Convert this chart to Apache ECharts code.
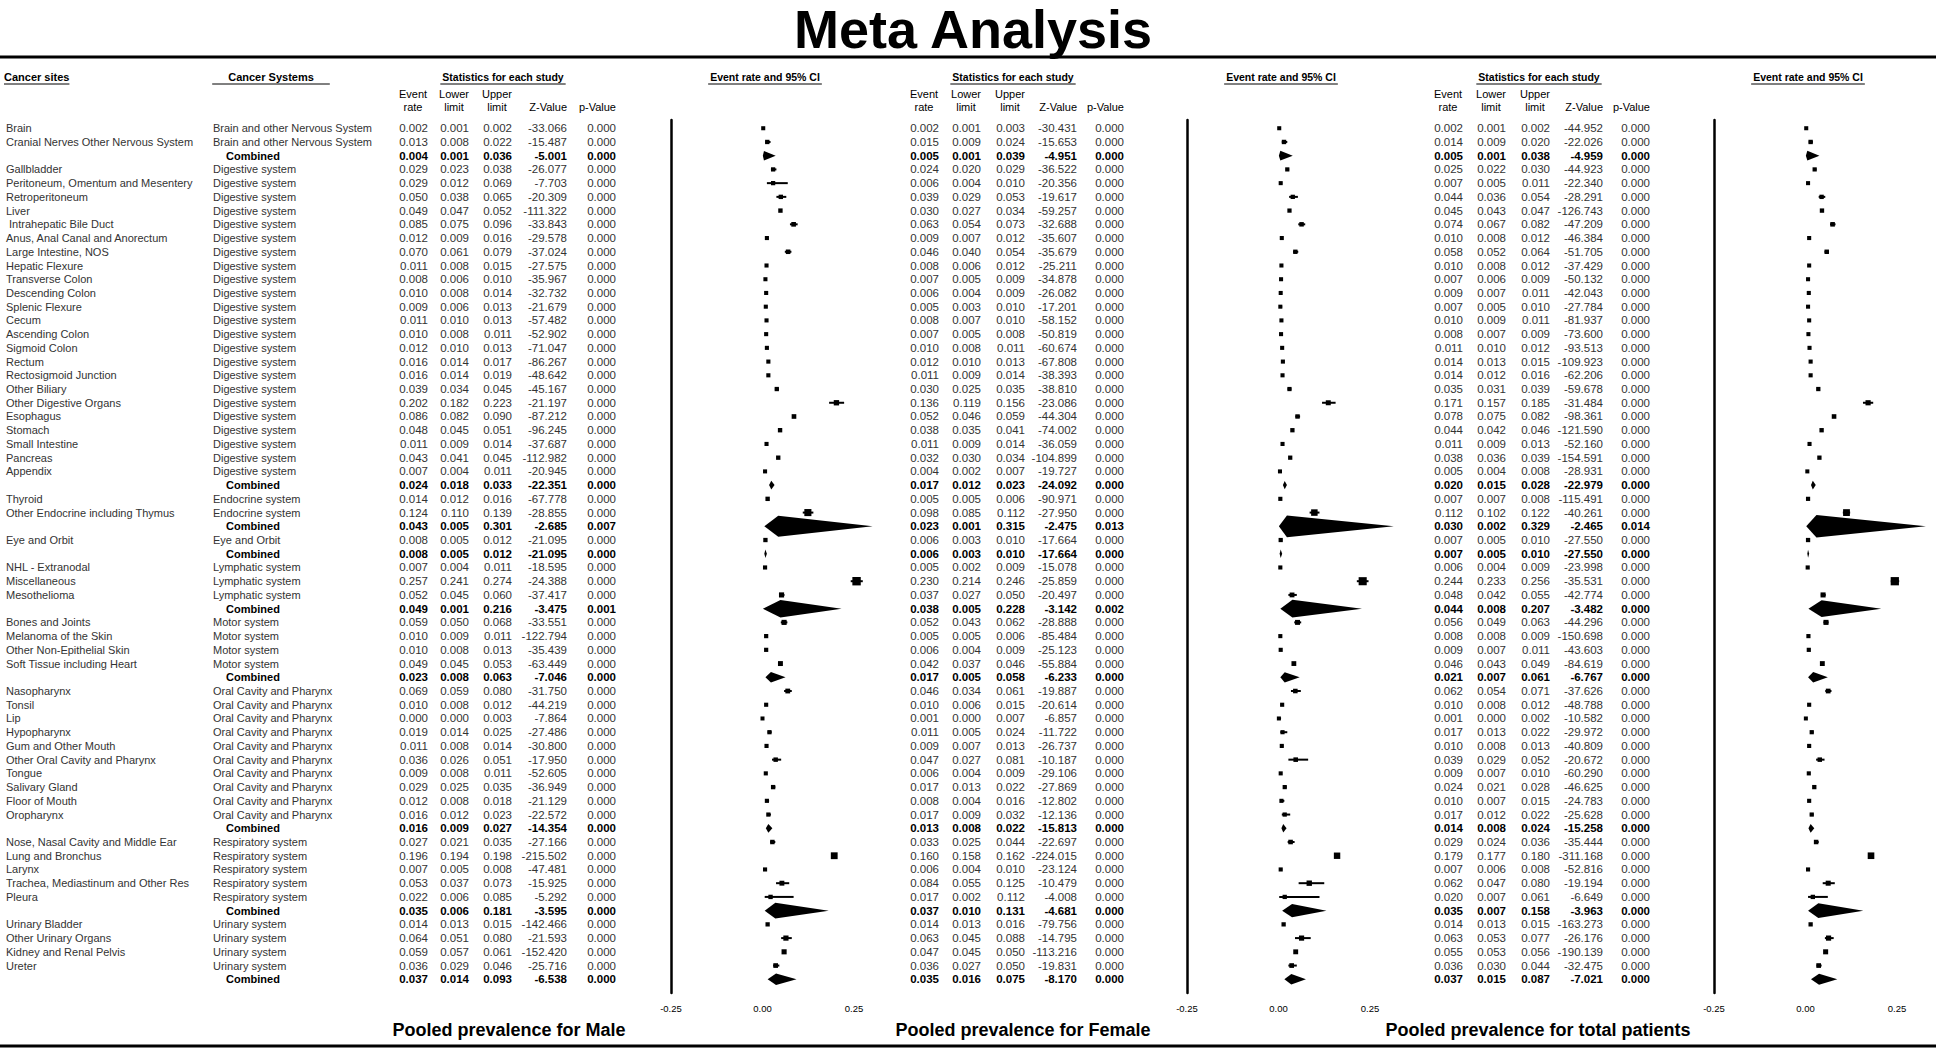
<!DOCTYPE html>
<html><head><meta charset="utf-8">
<script src="https://cdn.jsdelivr.net/npm/echarts@6/dist/echarts.min.js"></script>
<style>html,body{margin:0;padding:0;background:#fff}#c{width:1946px;height:1054px}</style>
</head><body><div id="c"></div>
<script>
// ---------------- DATA ----------------
const sites = ['Brain','Cranial Nerves Other Nervous System','',
 'Gallbladder','Peritoneum, Omentum and Mesentery','Retroperitoneum','Liver',' Intrahepatic Bile Duct','Anus, Anal Canal and Anorectum','Large Intestine, NOS','Hepatic Flexure','Transverse Colon','Descending Colon','Splenic Flexure','Cecum','Ascending Colon','Sigmoid Colon','Rectum','Rectosigmoid Junction','Other Biliary','Other Digestive Organs','Esophagus','Stomach','Small Intestine','Pancreas','Appendix','',
 'Thyroid','Other Endocrine including Thymus','',
 'Eye and Orbit','',
 'NHL - Extranodal','Miscellaneous','Mesothelioma','',
 'Bones and Joints','Melanoma of the Skin','Other Non-Epithelial Skin','Soft Tissue including Heart','',
 'Nasopharynx','Tonsil','Lip','Hypopharynx','Gum and Other Mouth','Other Oral Cavity and Pharynx','Tongue','Salivary Gland','Floor of Mouth','Oropharynx','',
 'Nose, Nasal Cavity and Middle Ear','Lung and Bronchus','Larynx','Trachea, Mediastinum and Other Res','Pleura','',
 'Urinary Bladder','Other Urinary Organs','Kidney and Renal Pelvis','Ureter',''];
const BN='Brain and other Nervous System', DG='Digestive system', EN='Endocrine system', EO='Eye and Orbit', LY='Lymphatic system', MO='Motor system', OC='Oral Cavity and Pharynx', RE='Respiratory system', UR='Urinary system', CB='Combined';
const systems = [BN,BN,CB,
 DG,DG,DG,DG,DG,DG,DG,DG,DG,DG,DG,DG,DG,DG,DG,DG,DG,DG,DG,DG,DG,DG,DG,CB,
 EN,EN,CB, EO,CB, LY,LY,LY,CB, MO,MO,MO,MO,CB,
 OC,OC,OC,OC,OC,OC,OC,OC,OC,OC,CB, RE,RE,RE,RE,RE,CB, UR,UR,UR,UR,CB];

const maleRate  = [0.002,0.013,0.004,0.029,0.029,0.050,0.049,0.085,0.012,0.070,0.011,0.008,0.010,0.009,0.011,0.010,0.012,0.016,0.016,0.039,0.202,0.086,0.048,0.011,0.043,0.007,0.024,0.014,0.124,0.043,0.008,0.008,0.007,0.257,0.052,0.049,0.059,0.010,0.010,0.049,0.023,0.069,0.010,0.000,0.019,0.011,0.036,0.009,0.029,0.012,0.016,0.016,0.027,0.196,0.007,0.053,0.022,0.035,0.014,0.064,0.059,0.036,0.037];
const maleLower = [0.001,0.008,0.001,0.023,0.012,0.038,0.047,0.075,0.009,0.061,0.008,0.006,0.008,0.006,0.010,0.008,0.010,0.014,0.014,0.034,0.182,0.082,0.045,0.009,0.041,0.004,0.018,0.012,0.110,0.005,0.005,0.005,0.004,0.241,0.045,0.001,0.050,0.009,0.008,0.045,0.008,0.059,0.008,0.000,0.014,0.008,0.026,0.008,0.025,0.008,0.012,0.009,0.021,0.194,0.005,0.037,0.006,0.006,0.013,0.051,0.057,0.029,0.014];
const maleUpper = [0.002,0.022,0.036,0.038,0.069,0.065,0.052,0.096,0.016,0.079,0.015,0.010,0.014,0.013,0.013,0.011,0.013,0.017,0.019,0.045,0.223,0.090,0.051,0.014,0.045,0.011,0.033,0.016,0.139,0.301,0.012,0.012,0.011,0.274,0.060,0.216,0.068,0.011,0.013,0.053,0.063,0.080,0.012,0.003,0.025,0.014,0.051,0.011,0.035,0.018,0.023,0.027,0.035,0.198,0.008,0.073,0.085,0.181,0.015,0.080,0.061,0.046,0.093];
const maleZ     = [-33.066,-15.487,-5.001,-26.077,-7.703,-20.309,-111.322,-33.843,-29.578,-37.024,-27.575,-35.967,-32.732,-21.679,-57.482,-52.902,-71.047,-86.267,-48.642,-45.167,-21.197,-87.212,-96.245,-37.687,-112.982,-20.945,-22.351,-67.778,-28.855,-2.685,-21.095,-21.095,-18.595,-24.388,-37.417,-3.475,-33.551,-122.794,-35.439,-63.449,-7.046,-31.750,-44.219,-7.864,-27.486,-30.800,-17.950,-52.605,-36.949,-21.129,-22.572,-14.354,-27.166,-215.502,-47.481,-15.925,-5.292,-3.595,-142.466,-21.593,-152.420,-25.716,-6.538];
const maleP     = [0,0,0,0,0,0,0,0,0,0,0,0,0,0,0,0,0,0,0,0,0,0,0,0,0,0,0,0,0,0.007,0,0,0,0,0,0.001,0,0,0,0,0,0,0,0,0,0,0,0,0,0,0,0,0,0,0,0,0,0,0,0,0,0,0];

const femaleRate  = [0.002,0.015,0.005,0.024,0.006,0.039,0.030,0.063,0.009,0.046,0.008,0.007,0.006,0.005,0.008,0.007,0.010,0.012,0.011,0.030,0.136,0.052,0.038,0.011,0.032,0.004,0.017,0.005,0.098,0.023,0.006,0.006,0.005,0.230,0.037,0.038,0.052,0.005,0.006,0.042,0.017,0.046,0.010,0.001,0.011,0.009,0.047,0.006,0.017,0.008,0.017,0.013,0.033,0.160,0.006,0.084,0.017,0.037,0.014,0.063,0.047,0.036,0.035];
const femaleLower = [0.001,0.009,0.001,0.020,0.004,0.029,0.027,0.054,0.007,0.040,0.006,0.005,0.004,0.003,0.007,0.005,0.008,0.010,0.009,0.025,0.119,0.046,0.035,0.009,0.030,0.002,0.012,0.005,0.085,0.001,0.003,0.003,0.002,0.214,0.027,0.005,0.043,0.005,0.004,0.037,0.005,0.034,0.006,0.000,0.005,0.007,0.027,0.004,0.013,0.004,0.009,0.008,0.025,0.158,0.004,0.055,0.002,0.010,0.013,0.045,0.045,0.027,0.016];
const femaleUpper = [0.003,0.024,0.039,0.029,0.010,0.053,0.034,0.073,0.012,0.054,0.012,0.009,0.009,0.010,0.010,0.008,0.011,0.013,0.014,0.035,0.156,0.059,0.041,0.014,0.034,0.007,0.023,0.006,0.112,0.315,0.010,0.010,0.009,0.246,0.050,0.228,0.062,0.006,0.009,0.046,0.058,0.061,0.015,0.007,0.024,0.013,0.081,0.009,0.022,0.016,0.032,0.022,0.044,0.162,0.010,0.125,0.112,0.131,0.016,0.088,0.050,0.050,0.075];
const femaleZ     = [-30.431,-15.653,-4.951,-36.522,-20.356,-19.617,-59.257,-32.688,-35.607,-35.679,-25.211,-34.878,-26.082,-17.201,-58.152,-50.819,-60.674,-67.808,-38.393,-38.810,-23.086,-44.304,-74.002,-36.059,-104.899,-19.727,-24.092,-90.971,-27.950,-2.475,-17.664,-17.664,-15.078,-25.859,-20.497,-3.142,-28.888,-85.484,-25.123,-55.884,-6.233,-19.887,-20.614,-6.857,-11.722,-26.737,-10.187,-29.106,-27.869,-12.802,-12.136,-15.813,-22.697,-224.015,-23.124,-10.479,-4.008,-4.681,-79.756,-14.795,-113.216,-19.831,-8.170];
const femaleP     = [0,0,0,0,0,0,0,0,0,0,0,0,0,0,0,0,0,0,0,0,0,0,0,0,0,0,0,0,0,0.013,0,0,0,0,0,0.002,0,0,0,0,0,0,0,0,0,0,0,0,0,0,0,0,0,0,0,0,0,0,0,0,0,0,0];

const totalRate  = [0.002,0.014,0.005,0.025,0.007,0.044,0.045,0.074,0.010,0.058,0.010,0.007,0.009,0.007,0.010,0.008,0.011,0.014,0.014,0.035,0.171,0.078,0.044,0.011,0.038,0.005,0.020,0.007,0.112,0.030,0.007,0.007,0.006,0.244,0.048,0.044,0.056,0.008,0.009,0.046,0.021,0.062,0.010,0.001,0.017,0.010,0.039,0.009,0.024,0.010,0.017,0.014,0.029,0.179,0.007,0.062,0.020,0.035,0.014,0.063,0.055,0.036,0.037];
const totalLower = [0.001,0.009,0.001,0.022,0.005,0.036,0.043,0.067,0.008,0.052,0.008,0.006,0.007,0.005,0.009,0.007,0.010,0.013,0.012,0.031,0.157,0.075,0.042,0.009,0.036,0.004,0.015,0.007,0.102,0.002,0.005,0.005,0.004,0.233,0.042,0.008,0.049,0.008,0.007,0.043,0.007,0.054,0.008,0.000,0.013,0.008,0.029,0.007,0.021,0.007,0.012,0.008,0.024,0.177,0.006,0.047,0.007,0.007,0.013,0.053,0.053,0.030,0.015];
const totalUpper = [0.002,0.020,0.038,0.030,0.011,0.054,0.047,0.082,0.012,0.064,0.012,0.009,0.011,0.010,0.011,0.009,0.012,0.015,0.016,0.039,0.185,0.082,0.046,0.013,0.039,0.008,0.028,0.008,0.122,0.329,0.010,0.010,0.009,0.256,0.055,0.207,0.063,0.009,0.011,0.049,0.061,0.071,0.012,0.002,0.022,0.013,0.052,0.010,0.028,0.015,0.022,0.024,0.036,0.180,0.008,0.080,0.061,0.158,0.015,0.077,0.056,0.044,0.087];
const totalZ     = [-44.952,-22.026,-4.959,-44.923,-22.340,-28.291,-126.743,-47.209,-46.384,-51.705,-37.429,-50.132,-42.043,-27.784,-81.937,-73.600,-93.513,-109.923,-62.206,-59.678,-31.484,-98.361,-121.590,-52.160,-154.591,-28.931,-22.979,-115.491,-40.261,-2.465,-27.550,-27.550,-23.998,-35.531,-42.774,-3.482,-44.296,-150.698,-43.603,-84.619,-6.767,-37.626,-48.788,-10.582,-29.972,-40.809,-20.672,-60.290,-46.625,-24.783,-25.628,-15.258,-35.444,-311.168,-52.816,-19.194,-6.649,-3.963,-163.273,-26.176,-190.139,-32.475,-7.021];
const totalP     = [0,0,0,0,0,0,0,0,0,0,0,0,0,0,0,0,0,0,0,0,0,0,0,0,0,0,0,0,0,0.014,0,0,0,0,0,0,0,0,0,0,0,0,0,0,0,0,0,0,0,0,0,0,0,0,0,0,0,0,0,0,0,0,0];

const axisTicks = [-0.25, 0.00, 0.25];
const panelTitles = ['Pooled prevalence for Male','Pooled prevalence for Female','Pooled prevalence for total patients'];
const colHeads1 = ['Event','Lower','Upper'];
const colHeads2 = ['rate','limit','limit','Z-Value','p-Value'];

// ---------------- LAYOUT ----------------
const FF = '"Liberation Sans", Arial, Helvetica, sans-serif';
const N = sites.length;
const isComb = systems.map(s => s === 'Combined');
// number of studies in the subgroup each row belongs to (used for box size)
const groupSize = [];
(function () {
  let start = 0;
  for (let i = 0; i < N; i++) {
    if (isComb[i]) {
      for (let j = start; j < i; j++) groupSize[j] = i - start;
      groupSize[i] = i - start;
      start = i + 1;
    }
  }
})();
const GTOP = 120, GH = 873, YMIN = -0.6, YMAX = 63.0;
const panels = [
  {rate: maleRate, lo: maleLower, hi: maleUpper, z: maleZ, p: maleP, cols: [428, 469, 512, 567, 616], plotLeft: 671, statC: 503},
  {rate: femaleRate, lo: femaleLower, hi: femaleUpper, z: femaleZ, p: femaleP, cols: [939, 981, 1025, 1077, 1124], plotLeft: 1187, statC: 1013},
  {rate: totalRate, lo: totalLower, hi: totalUpper, z: totalZ, p: totalP, cols: [1463, 1506, 1550, 1603, 1650], plotLeft: 1714, statC: 1539}
];
const PW = 183;
const footC = [509, 1023, 1538];

const ctx = document.createElement('canvas').getContext('2d');
function tw(text, font) { ctx.font = font; return ctx.measureText(text).width; }

function textColumn(xPos, align, getText, opts) {
  opts = opts || {};
  return {
    type: 'custom', xAxisIndex: 0, yAxisIndex: 0, silent: true, clip: false,
    data: sites.map((s, i) => [xPos, i]),
    renderItem: function (params, api) {
      const i = params.dataIndex;
      const t = getText(i);
      if (t === null || t === undefined || t === '') return null;
      const comb = isComb[i];
      let x = xPos, al = align;
      if (opts.combX !== undefined && comb) { x = opts.combX; al = 'center'; }
      const p = api.coord([x, i]);
      return {
        type: 'text', x: p[0], y: p[1],
        style: {
          text: t, fill: comb ? '#000' : '#333',
          font: (comb ? 'bold ' : '') + (opts.size || 11) + 'px ' + FF,
          align: al, verticalAlign: 'middle'
        }
      };
    }
  };
}

const grids = [{left: 0, top: GTOP, width: 1946, height: GH}];
const xAxes = [{gridIndex: 0, type: 'value', min: 0, max: 1946, show: false}];
const yAxes = [{gridIndex: 0, type: 'value', min: YMIN, max: YMAX, inverse: true, show: false}];
const series = [];

series.push(textColumn(6, 'left', i => sites[i]));
series.push(textColumn(213, 'left', i => systems[i], {combX: 253}));

panels.forEach((pn, k) => {
  const f3 = v => v.toFixed(3);
  series.push(textColumn(pn.cols[0], 'right', i => f3(pn.rate[i]), {size: 11.5}));
  series.push(textColumn(pn.cols[1], 'right', i => f3(pn.lo[i]), {size: 11.5}));
  series.push(textColumn(pn.cols[2], 'right', i => f3(pn.hi[i]), {size: 11.5}));
  series.push(textColumn(pn.cols[3], 'right', i => f3(pn.z[i]), {size: 11.5}));
  series.push(textColumn(pn.cols[4], 'right', i => f3(pn.p[i]), {size: 11.5}));

  const gi = k + 1;
  grids.push({left: pn.plotLeft, top: GTOP, width: PW, height: GH});
  xAxes.push({
    gridIndex: gi, type: 'value', min: -0.25, max: 0.25, interval: 0.25,
    axisLine: {show: false}, axisTick: {show: false}, splitLine: {show: false},
    axisLabel: {margin: 10, fontSize: 9.5, color: '#000', fontFamily: FF,
      formatter: v => v.toFixed(2), customValues: axisTicks}
  });
  yAxes.push({
    gridIndex: gi, type: 'value', min: YMIN, max: YMAX, inverse: true,
    axisLine: {show: true, onZero: false, lineStyle: {color: '#000', width: 2.5}},
    axisTick: {show: false}, axisLabel: {show: false}, splitLine: {show: false}
  });
  series.push({
    type: 'custom', xAxisIndex: gi, yAxisIndex: gi, silent: true, clip: false,
    data: pn.rate.map((r, i) => [r, pn.lo[i], pn.hi[i], i]),
    encode: {x: [0, 1, 2], y: 3},
    renderItem: function (params, api) {
      const i = params.dataIndex;
      const row = api.value(3);
      const est = api.value(0), lo = api.value(1), hi = api.value(2);
      const pE = api.coord([est, row]);
      const pL = api.coord([lo, row]);
      const pH = api.coord([hi, row]);
      if (isComb[i]) {
        const h = 4 + 22 * (hi - lo);
        return {type: 'polygon', shape: {points: [[pL[0], pE[1]], [pE[0], pE[1] - h], [pH[0], pE[1]], [pE[0], pE[1] + h]]},
          style: {fill: '#000'}};
      }
      const s = Math.min(9, 4 + 40 * est * (1 - est) / Math.sqrt(groupSize[i]));
      return {type: 'group', children: [
        {type: 'line', shape: {x1: pL[0], y1: pE[1], x2: pH[0], y2: pE[1]}, style: {stroke: '#000', lineWidth: 2}},
        {type: 'rect', shape: {x: pE[0] - s / 2, y: pE[1] - s / 2, width: s, height: s}, style: {fill: '#000'}}
      ]};
    }
  });
});

// ---------------- GRAPHIC (titles, headers, rules) ----------------
const graphic = [];
function gtext(x, y, text, font, align) {
  graphic.push({type: 'text', x: x, y: y, silent: true,
    style: {text: text, font: font, fill: '#000', align: align || 'center', verticalAlign: 'middle'}});
}
function gline(x1, y1, x2, y2, w) {
  graphic.push({type: 'line', silent: true, shape: {x1: x1, y1: y1, x2: x2, y2: y2}, style: {stroke: '#000', lineWidth: w}});
}
function underlined(x, y, text, font, align, ext) {
  gtext(x, y, text, font, align);
  const w = tw(text, font);
  const x0 = align === 'left' ? x : x - w / 2;
  ext = ext || 0;
  gline(x0 - ext, y + 7, x0 + w + ext, y + 7, 1);
}

gtext(973, 29, 'Meta Analysis', 'bold 54px ' + FF);
gline(0, 57, 1936, 57, 3);
gline(0, 1046, 1936, 1046, 3);

const HB = 'bold 11px ' + FF;
underlined(4, 77, 'Cancer sites', HB, 'left');
underlined(271, 77, 'Cancer Systems', HB, 'center', 16);
panels.forEach((pn, k) => {
  underlined(pn.statC, 77, 'Statistics for each study', 'bold 10.5px ' + FF, 'center', 2);
  underlined(pn.plotLeft + 94, 77, 'Event rate and 95% CI', 'bold 10.5px ' + FF, 'center', 2);
  const hf = '11px ' + FF;
  for (let c = 0; c < 3; c++) {
    gtext(pn.cols[c] - 15, 94, colHeads1[c], hf);
    gtext(pn.cols[c] - 15, 107, colHeads2[c], hf);
  }
  gtext(pn.cols[3], 107, colHeads2[3], hf, 'right');
  gtext(pn.cols[4], 107, colHeads2[4], hf, 'right');
  gtext(footC[k], 1030, panelTitles[k], 'bold 18px ' + FF);
});

const chart = echarts.init(document.getElementById('c'), null, {renderer: 'svg', width: 1946, height: 1054});
chart.setOption({
  animation: false,
  backgroundColor: '#fff',
  grid: grids, xAxis: xAxes, yAxis: yAxes, series: series, graphic: graphic
});
</script>
</body></html>
